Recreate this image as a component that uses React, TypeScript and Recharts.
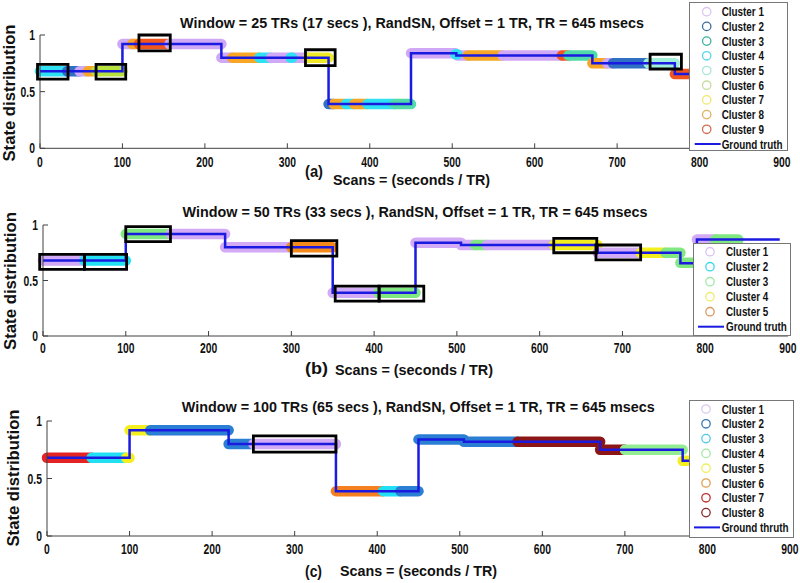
import { ComposedChart, Line, XAxis, YAxis, ReferenceArea } from "recharts"

const FONT = '"Liberation Sans", Arial, Helvetica, sans-serif'
const AXIS = "#404040"
const TRUTH = "#1a1ae0"

const xTicks = [0, 100, 200, 300, 400, 500, 600, 700, 800, 900]
const yTicks = [0, 0.5, 1]

// ground truth: scan where each step starts, and its level
const truthScans = [0, 100, 220, 350, 450, 505, 670, 770, 790, 890]
const truthLevels = [0.68, 0.92, 0.8, 0.39, 0.84, 0.82, 0.75, 0.655, 0.87, 0.87]

// cluster runs: [from scan, to scan, level, cluster]
type Seg = [number, number, number, number]
const segmentsA: Seg[] = [
    [0, 33, 0.68, 4], [33, 48, 0.68, 2], [48, 58, 0.68, 1], [58, 68, 0.68, 8], [68, 100, 0.68, 6],
    [100, 114, 0.92, 1], [112, 120, 0.92, 8], [120, 157, 0.92, 9], [157, 220, 0.92, 1],
    [220, 233, 0.8, 1], [233, 266, 0.8, 8], [266, 280, 0.8, 4], [280, 325, 0.8, 1], [304, 306, 0.8, 4], [325, 350, 0.8, 7],
    [350, 356, 0.39, 2], [356, 371, 0.39, 8], [371, 381, 0.39, 4], [381, 397, 0.39, 8], [397, 430, 0.39, 4], [430, 450, 0.39, 3],
    [450, 504, 0.84, 1], [506, 519, 0.82, 1], [504, 506, 0.83, 4], [519, 561, 0.82, 8], [561, 633, 0.82, 1],
    [633, 641, 0.82, 9], [641, 670, 0.82, 3],
    [670, 688, 0.75, 8], [688, 695, 0.75, 1], [695, 738, 0.75, 2], [738, 770, 0.75, 5],
    [770, 790, 0.655, 9],
]
const segmentsB: Seg[] = [
    [0, 50, 0.68, 1], [50, 100, 0.68, 2],
    [100, 154, 0.92, 3], [154, 220, 0.92, 1],
    [220, 300, 0.8, 1], [300, 350, 0.8, 5],
    [350, 405, 0.39, 1], [405, 450, 0.39, 3],
    [450, 505, 0.84, 1], [505, 522, 0.82, 1], [522, 536, 0.82, 3], [536, 617, 0.82, 1], [617, 670, 0.82, 4],
    [670, 722, 0.75, 1], [722, 752, 0.75, 4], [752, 770, 0.75, 3],
    [770, 790, 0.66, 3], [790, 812, 0.87, 1], [812, 840, 0.87, 3],
]
const segmentsC: Seg[] = [
    [0, 54, 0.68, 7], [54, 96, 0.68, 3], [96, 100, 0.68, 5],
    [100, 125, 0.92, 5], [125, 220, 0.92, 2],
    [220, 250, 0.8, 2], [250, 350, 0.8, 1],
    [350, 407, 0.39, 6], [407, 428, 0.39, 3], [428, 450, 0.39, 2],
    [450, 505, 0.84, 2], [505, 570, 0.82, 2], [570, 670, 0.82, 8],
    [670, 700, 0.75, 8], [700, 770, 0.75, 4],
    [770, 790, 0.655, 5],
]

// highlighted windows: [from scan, to scan, low, high]
type Box = [number, number, number, number]
const boxesA: Box[] = [
    [-3, 34, 0.61, 0.74], [68, 104, 0.61, 0.74], [120, 158, 0.86, 1.0],
    [322, 358, 0.73, 0.87], [740, 778, 0.7, 0.83],
]
const boxesB: Box[] = [
    [-4, 50, 0.6, 0.735], [50, 101, 0.6, 0.735], [100, 154, 0.85, 0.985], [300, 355, 0.72, 0.86],
    [353, 406, 0.315, 0.45], [406, 460, 0.315, 0.45], [617, 669, 0.75, 0.88], [668, 722, 0.685, 0.82],
]
const boxesC: Box[] = [[250, 350, 0.73, 0.87]]

const bandColorsA = ["#cfa8f6", "#2f6fc4", "#50dca8", "#2ee2f4", "#a2f0da", "#b8e23e", "#f0ea26", "#f8a626", "#f2561c"]
const bandColorsB = ["#d2aaf6", "#22e2f4", "#80e880", "#f4ee1e", "#f48a1a"]
const bandColorsC = ["#d2aaf6", "#2a7fd4", "#22e0f4", "#92ec92", "#f4f020", "#f48020", "#e42424", "#8c1616"]

const legendColorsA = ["#dcc6f2", "#3a6e9e", "#3fb0a0", "#5ad6e8", "#a8e6d8", "#c8dca0", "#f0e66a", "#e0b060", "#d07050"]
const legendColorsB = ["#dcc2f2", "#40d8e8", "#a0e8a8", "#f0ec70", "#d89a60"]
const legendColorsC = ["#dcc8ee", "#3a78b0", "#50c8e8", "#a0e8a0", "#f0f060", "#e0a050", "#c03030", "#8a2a2a"]

const titles = [
    "Window = 25 TRs (17 secs ), RandSN, Offset = 1 TR, TR = 645 msecs",
    "Window = 50 TRs (33 secs ), RandSN, Offset = 1 TR, TR = 645 msecs",
    "Window = 100 TRs (65 secs ), RandSN, Offset = 1 TR, TR = 645 msecs",
]
const panelTags = ["(a)", "(b)", "(c)"]
const truthLabels = ["Ground truth", "Ground truth", "Ground thruth"]
const xLabel = "Scans = (seconds / TR)"
const yLabel = "State distribution"

function XTick({ x, y, payload, dy }: any) {
    return (
        <g>
            <line x1={x} y1={y} x2={x} y2={y - 5} stroke={AXIS} />
            <text transform={`translate(${x},${y + dy}) scale(0.74,1)`} textAnchor="middle"
                fontSize={14} fontWeight="bold" fontFamily={FONT} fill="#111">{payload.value}</text>
        </g>
    )
}

function YTick({ x, y, payload }: any) {
    return (
        <g>
            <line x1={x} y1={y} x2={x + 5} y2={y} stroke={AXIS} />
            <text transform={`translate(${x - 5},${y + 5}) scale(0.74,1)`} textAnchor="end"
                fontSize={14} fontWeight="bold" fontFamily={FONT} fill="#111">{payload.value}</text>
        </g>
    )
}

// plot box given as left, top, right and bottom pixel edges
function Panel({ box, segments, boxes, colors, dy }: any) {
    const truth = truthScans.map((x, i) => ({ x, y: truthLevels[i] }))
    const [l, t, r, b] = box
    const margin = { left: l - 30, top: t, right: 800 - r, bottom: 583 - b - 30 }
    return (
        <div style={{ position: "absolute", left: 0, top: 0 }}>
            <ComposedChart width={800} height={583} margin={margin}>
                <XAxis type="number" dataKey="x" domain={[0, 900]} ticks={xTicks} interval={0} height={30}
                    tickSize={0} tickMargin={0} tickLine={false} axisLine={{ stroke: AXIS }}
                    tick={(p: any) => <XTick {...p} dy={dy} />} />
                <YAxis type="number" domain={[0, 1]} ticks={yTicks} interval={0} width={30}
                    tickSize={0} tickMargin={0} tickLine={false} axisLine={{ stroke: AXIS }}
                    tick={(p: any) => <YTick {...p} />} />
                {segments.map(([from, to, level, cluster]: Seg, i: number) => (
                    <Line key={"s" + i} data={[{ x: from, y: level }, { x: to, y: level }]} dataKey="y"
                        stroke={colors[cluster - 1]} strokeWidth={10.5} strokeLinecap="round"
                        dot={false} activeDot={false} isAnimationActive={false} />
                ))}
                <Line data={truth} dataKey="y" type="stepAfter" stroke={TRUTH} strokeWidth={2.5}
                    dot={false} activeDot={false} isAnimationActive={false} />
                {boxes.map(([x1, x2, y1, y2]: Box, i: number) => (
                    <ReferenceArea key={"b" + i} x1={x1} x2={x2} y1={y1} y2={y2} fill="none" fillOpacity={0}
                        stroke="#000" strokeWidth={2.8} ifOverflow="visible" zIndex={800} />
                ))}
            </ComposedChart>
        </div>
    )
}

function LegendBox({ left, top, width, height, colors, label, row0, gap, mx, tx }: any) {
    const rowY = (i: number) => row0 + i * gap
    return (
        <g>
            <rect x={left + 0.5} y={top + 0.5} width={width} height={height} fill="#fff" stroke="#777" />
            {colors.map((c: string, i: number) => (
                <g key={i}>
                    <circle cx={mx} cy={rowY(i)} r={4.2} fill="none" stroke={c} strokeWidth={1.3} />
                    <text transform={`translate(${tx},${rowY(i) + 4.5}) scale(0.79,1)`} fontSize={12.5}>
                        {`Cluster ${i + 1}`}
                    </text>
                </g>
            ))}
            <line x1={mx - 12} x2={mx + 14} y1={rowY(colors.length)} y2={rowY(colors.length)}
                stroke={TRUTH} strokeWidth={2} />
            <text transform={`translate(${tx},${rowY(colors.length) + 4.5}) scale(0.79,1)`} fontSize={12.5}>
                {label}
            </text>
        </g>
    )
}

function Overlay() {
    return (
        <svg width={800} height={583} style={{ position: "absolute", left: 0, top: 0 }}
            fontFamily={FONT} fontWeight="bold" fill="#111">
            <text x={412} y={27.5} textAnchor="middle" fontSize={15.5} textLength={464} lengthAdjust="spacingAndGlyphs">{titles[0]}</text>
            <text x={415} y={216.7} textAnchor="middle" fontSize={15.5} textLength={465} lengthAdjust="spacingAndGlyphs">{titles[1]}</text>
            <text x={418.3} y={411.7} textAnchor="middle" fontSize={15.5} textLength={473} lengthAdjust="spacingAndGlyphs">{titles[2]}</text>

            <text transform="translate(15,93) rotate(-90)" textAnchor="middle" fontSize={16} textLength={137} lengthAdjust="spacingAndGlyphs">{yLabel}</text>
            <text transform="translate(15.5,281) rotate(-90)" textAnchor="middle" fontSize={16} textLength={138} lengthAdjust="spacingAndGlyphs">{yLabel}</text>
            <text transform="translate(18.5,478) rotate(-90)" textAnchor="middle" fontSize={16} textLength={137} lengthAdjust="spacingAndGlyphs">{yLabel}</text>

            <text x={305} y={177} fontSize={16} textLength={18} lengthAdjust="spacingAndGlyphs">{panelTags[0]}</text>
            <text x={333} y={185} fontSize={15} textLength={157} lengthAdjust="spacingAndGlyphs">{xLabel}</text>
            <text x={305} y={374} fontSize={16} textLength={23} lengthAdjust="spacingAndGlyphs">{panelTags[1]}</text>
            <text x={335} y={374.5} fontSize={15} textLength={158} lengthAdjust="spacingAndGlyphs">{xLabel}</text>
            <text x={305} y={577} fontSize={16} textLength={17} lengthAdjust="spacingAndGlyphs">{panelTags[2]}</text>
            <text x={340} y={575.5} fontSize={15} textLength={157} lengthAdjust="spacingAndGlyphs">{xLabel}</text>

            <LegendBox left={689} top={2} width={98} height={148} colors={legendColorsA} label={truthLabels[0]}
                row0={11.7} gap={14.7} mx={706.7} tx={721.7} />
            <LegendBox left={693} top={243} width={97} height={92} colors={legendColorsB} label={truthLabels[1]}
                row0={251.7} gap={15} mx={710} tx={726} />
            <LegendBox left={689} top={400} width={104} height={137} colors={legendColorsC} label={truthLabels[2]}
                row0={409} gap={14.8} mx={706} tx={721.7} />
        </svg>
    )
}

export default function App() {
    return (
        <div style={{ position: "absolute", left: 0, top: 0, width: 800, height: 583, background: "#fff" }}>
            <Panel box={[40, 35, 782, 148.3]} segments={segmentsA} boxes={boxesA} colors={bandColorsA} dy={18.4} />
            <Panel box={[43, 225, 788, 336]} segments={segmentsB} boxes={boxesB} colors={bandColorsB} dy={17.3} />
            <Panel box={[47, 421, 790, 536]} segments={segmentsC} boxes={boxesC} colors={bandColorsC} dy={18} />
            <Overlay />
        </div>
    )
}
